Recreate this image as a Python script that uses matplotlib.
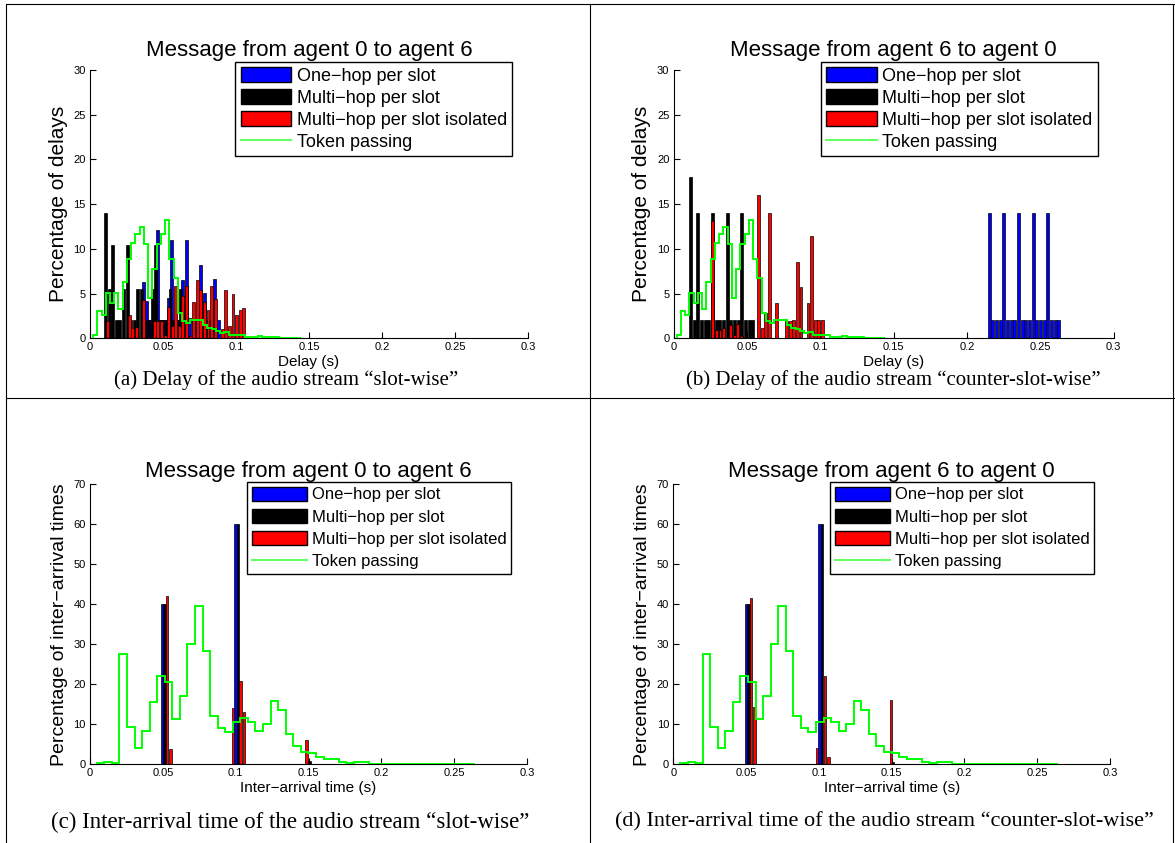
import matplotlib
matplotlib.use("Agg")
import matplotlib.pyplot as plt
from matplotlib.patches import Patch
from matplotlib.lines import Line2D
import numpy as np

plt.rcParams['font.family'] = ['Liberation Sans', 'DejaVu Sans']

# ---------------- data ----------------
series_names = ["One\u2212hop per slot", "Multi\u2212hop per slot",
                "Multi\u2212hop per slot isolated", "Token passing"]

# (a) delay, agent 0 -> agent 6  (histogram bins: first centre, bin width, heights)
a_blue_start, a_blue_step = 0.0365, 0.00245
a_blue = [6.3, 4.2, 2, 2, 12.1, 2, 2, 4.5, 11.0, 2, 2, 6.5, 11.0, 2.3, 2, 2,
          8.2, 5.1, 2, 2, 6.6, 2]
a_black_start, a_black_step = 0.0107, 0.00245
a_black = [14, 5.5, 10.4, 2, 2, 5.5, 10.4, 2, 2, 5.5, 5.5, 2, 2, 5.5, 10.4, 2,
           2, 2, 5.5, 2, 2, 5.5, 2]
a_red_start, a_red_step = 0.0122, 0.00245
a_red = [1.9, 0, 0, 0, 0, 0, 2.6, 1.2, 1.3, 0, 4.3, 0.1, 0, 1.9, 1.9, 1.9, 0.4,
         3.5, 1.4, 5.9, 1.4, 4.7, 5.9, 0.3, 4.1, 6.5, 5.4, 4.1, 3.2, 5.9, 4.4,
         0, 1.0, 5.4, 1.4, 5.0, 2.6, 3.2, 3.4]

# (b) delay, agent 6 -> agent 0
b_blue_start, b_blue_step = 0.2151, 0.0025
b_blue = [14, 2, 2, 2, 14, 2, 2, 2, 14, 2, 2, 2, 14, 2, 2, 2, 14, 2, 2, 2]
b_black_start, b_black_step = 0.0115, 0.0025
b_black = [18, 2, 14, 2, 2, 2, 14, 2, 2, 2, 14, 2, 2, 2, 14, 2, 2, 2]
b_red_start, b_red_step = 0.0269, 0.0024
b_red = [13.1, 0.9, 0.9, 1.1, 0, 1.5, 0.4, 1.6, 0.3, 0, 0, 0, 0, 16.0, 1.2,
         2.8, 14.0, 0, 4.0, 0, 0, 1.9, 1.9, 2.0, 8.5, 5.7, 0, 4.0, 11.4, 2, 2, 2]

# token passing delay histogram (same for both directions)
tok_delay_start, tok_delay_step = 0.0021, 0.0029
tok_delay = [0.4, 3.0, 2.6, 5.1, 3.9, 5.1, 3.3, 6.3, 8.9, 10.7, 11.7, 12.4,
             10.6, 4.5, 7.7, 10.6, 11.7, 13.2, 8.9, 6.7, 2.8, 1.9, 1.7, 2.1,
             2.1, 2.1, 1.5, 1.1, 1.0, 0.8, 0.6, 0.7, 0.4, 0.4, 0.4, 0.4, 0.2,
             0.2, 0.2, 0.3, 0.1, 0.1, 0.1, 0.1, 0.05, 0.05, 0.05, 0.05, 0.05]

# (c) inter-arrival, agent 0 -> agent 6
c_blue_x, c_blue = [0.0495, 0.0999], [40, 60]
c_black_x, c_black = [0.0511, 0.1016, 0.1505], [40, 60, 0.8]
c_red_x = [0.0528, 0.0551, 0.0981, 0.1035, 0.1057, 0.1487]
c_red = [42.2, 3.8, 14.0, 20.9, 13.0, 6.1]

# (d) inter-arrival, agent 6 -> agent 0
d_blue_x, d_blue = [0.0500, 0.1004], [40, 60]
d_black_x, d_black = [0.0515, 0.1021, 0.151], [40, 60, 0.7]
d_red_x = [0.0533, 0.0559, 0.0987, 0.1042, 0.1065, 0.1495]
d_red = [41.6, 14.3, 4.0, 22.1, 1.8, 16.0]

# token passing inter-arrival histogram
tok_iat_start, tok_iat_step = 0.0046, 0.00519
tok_iat = [0.4, 0.7, 0.25, 27.6, 9.4, 4.0, 8.4, 15.5, 22.2, 20.7, 11.4, 17.2,
           30.1, 39.5, 28.4, 12.1, 9.0, 8.0, 10.5, 11.5, 10.7, 8.4, 10.0, 15.9,
           13.6, 7.5, 4.7, 3.2, 2.8, 1.9, 1.3, 1.3, 0.5, 0.3, 0.7, 0.7, 0.1,
           0.2, 0.1, 0.1, 0.2, 0.1, 0.1, 0.1, 0.05, 0.05, 0.05, 0.05, 0.05, 0.05]

x_ticks = [0, 0.05, 0.1, 0.15, 0.2, 0.25, 0.3]
x_tick_labels = ["0", "0.05", "0.1", "0.15", "0.2", "0.25", "0.3"]

captions = ["(a) Delay of the audio stream \u201cslot-wise\u201d",
            "(b) Delay of the audio stream \u201ccounter-slot-wise\u201d",
            "(c) Inter-arrival time of the audio stream \u201cslot-wise\u201d",
            "(d) Inter-arrival time of the audio stream \u201ccounter-slot-wise\u201d"]

# ---------------- layout ----------------
W, H = 1175, 843
fig = plt.figure(figsize=(W / 100, H / 100), dpi=100)


def rect(left, top, right, bottom):
    return [left / W, 1 - bottom / H, (right - left) / W, (bottom - top) / H]


def bins(start, step, heights):
    return start + step * np.arange(len(heights))


def panel(r, bars, tok_start, tok_step, tok, ymax, ystep, title, title_pad,
          xlabel, ylabel, ylab_size, leg_size, leg_hl, leg_sp, leg_y):
    ax = fig.add_axes(r)
    for x, h, w, c in bars:
        ax.bar(x, h, width=w, color=c, edgecolor='k', linewidth=0.5, zorder=2)
    edges = tok_start + tok_step * np.arange(len(tok) + 1)
    ax.stairs(tok, edges, color='#00ff00', linewidth=1.4, baseline=0, zorder=3)
    ax.set_xlim(0, 0.3)
    ax.set_ylim(0, ymax)
    ax.set_xticks(x_ticks)
    ax.set_xticklabels(x_tick_labels)
    ax.set_yticks(np.arange(0, ymax + 1, ystep))
    ax.tick_params(direction='in', length=4, width=0.8, labelsize=8, pad=3)
    for s in ['top', 'right']:
        ax.spines[s].set_visible(False)
    ax.set_title(title, fontsize=16, pad=title_pad)
    ax.set_xlabel(xlabel, fontsize=11, labelpad=2)
    ax.set_ylabel(ylabel, fontsize=ylab_size, labelpad=4)
    handles = [Patch(facecolor='b', edgecolor='k'), Patch(facecolor='k', edgecolor='k'),
               Patch(facecolor='r', edgecolor='k'), Line2D([], [], color='#66ff66', lw=1.5)]
    leg = ax.legend(handles, series_names, loc='upper right', bbox_to_anchor=(0.964, leg_y),
                    fontsize=leg_size, frameon=True, fancybox=False, framealpha=1,
                    edgecolor='k', handlelength=leg_hl, handleheight=0.9,
                    handletextpad=0.3, labelspacing=leg_sp, borderpad=0.3,
                    borderaxespad=0)
    leg.get_frame().set_linewidth(1.0)
    leg.set_zorder(10)
    return ax


w_ab = 0.002
w_cd = 0.0018
panel(rect(90, 70, 528, 338.3),
      [(bins(a_blue_start, a_blue_step, a_blue), a_blue, w_ab, 'b'),
       (bins(a_black_start, a_black_step, a_black), a_black, w_ab, 'k'),
       (bins(a_red_start, a_red_step, a_red), a_red, w_ab, 'r')],
      tok_delay_start, tok_delay_step, tok_delay, 30, 5,
      "Message from agent 0 to agent 6", 10, "Delay (s)", "Percentage of delays",
      15, 13, 2.8, 0.23, 1.03)
panel(rect(673.5, 70, 1113.6, 338.3),
      [(bins(b_blue_start, b_blue_step, b_blue), b_blue, w_ab, 'b'),
       (bins(b_black_start, b_black_step, b_black), b_black, w_ab, 'k'),
       (bins(b_red_start, b_red_step, b_red), b_red, w_ab, 'r')],
      tok_delay_start, tok_delay_step, tok_delay, 30, 5,
      "Message from agent 6 to agent 0", 10, "Delay (s)", "Percentage of delays",
      15, 13, 2.8, 0.23, 1.03)
panel(rect(90, 484.3, 527, 764.3),
      [(c_blue_x, c_blue, w_cd, 'b'), (c_black_x, c_black, w_cd, 'k'),
       (c_red_x, c_red, w_cd, 'r')],
      tok_iat_start, tok_iat_step, tok_iat, 70, 10,
      "Message from agent 0 to agent 6", 5, "Inter\u2212arrival time (s)",
      "Percentage of inter\u2212arrival times", 14, 12, 3.3, 0.4, 1.009)
panel(rect(673.3, 484.3, 1110, 764.3),
      [(d_blue_x, d_blue, w_cd, 'b'), (d_black_x, d_black, w_cd, 'k'),
       (d_red_x, d_red, w_cd, 'r')],
      tok_iat_start, tok_iat_step, tok_iat, 70, 10,
      "Message from agent 6 to agent 0", 5, "Inter\u2212arrival time (s)",
      "Percentage of inter\u2212arrival times", 14, 12, 3.3, 0.4, 1.009)

# captions
cap_pos = [(286, 380, 15), (893, 380, 15), (290, 822, 16.5), (884, 822, 16)]
for (cx, cy, fs), txt in zip(cap_pos, captions):
    fig.text(cx / W, 1 - cy / H, txt, ha='center', va='center', fontsize=fs,
             family=['Liberation Serif', 'DejaVu Serif'])

# table rules around the sub-figures
for (x0, y0, x1, y1) in [(6, 4, 1175, 4), (6, 4, 6, 843), (590, 4, 590, 843),
                         (6, 398, 1175, 398), (1173, 4, 1173, 843)]:
    fig.add_artist(Line2D([x0 / W, x1 / W], [1 - y0 / H, 1 - y1 / H],
                          transform=fig.transFigure, color='k', lw=0.8))

fig.savefig("out.png", dpi=100)
